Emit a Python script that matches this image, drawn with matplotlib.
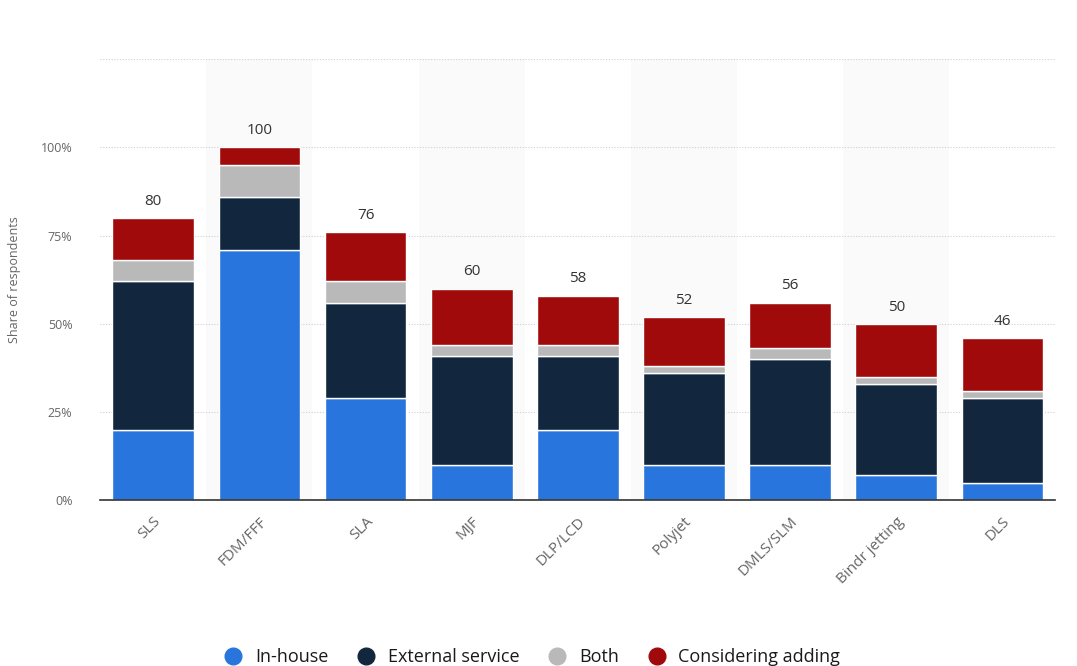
import numpy as np
import matplotlib
matplotlib.use("Agg")
import matplotlib.pyplot as plt
from matplotlib.lines import Line2D

plt.rcParams['font.family'] = ['Open Sans', 'DejaVu Sans']

categories = ['SLS', 'FDM/FFF', 'SLA', 'MJF', 'DLP/LCD', 'Polyjet', 'DMLS/SLM', 'Bindr jetting', 'DLS']
in_house = [20, 71, 29, 10, 20, 10, 10, 7, 5]
external = [42, 15, 27, 31, 21, 26, 30, 26, 24]
both = [6, 9, 6, 3, 3, 2, 3, 2, 2]
considering = [12, 5, 14, 16, 14, 14, 13, 15, 15]
totals = [80, 100, 76, 60, 58, 52, 56, 50, 46]

series = [('In-house', in_house, '#2876dd'),
          ('External service', external, '#12263d'),
          ('Both', both, '#b9b9b9'),
          ('Considering adding', considering, '#a10a0a')]

fig = plt.figure(figsize=(10.77, 6.66), dpi=100)
ax = fig.add_axes([0.093, 0.249, 0.887, 0.662])

x = np.arange(len(categories))

# alternating column shading
for i in x:
    if i % 2 == 1:
        ax.axvspan(i - 0.5, i + 0.5, color='#fafafa', zorder=0, lw=0)

ax.set_ylim(0, 125)
ax.set_xlim(-0.5, len(categories) - 0.5)
ax.set_yticks([0, 25, 50, 75, 100, 125])
ax.set_yticklabels(['0%', '25%', '50%', '75%', '100%', ''])
ax.yaxis.grid(True, linestyle=(0, (1, 1.5)), color='#cfcfcf', lw=0.8)
ax.set_axisbelow(True)

bottom = np.zeros(len(categories))
for name, vals, col in series:
    ax.bar(x, vals, 0.77, bottom=bottom, color=col, edgecolor='white', lw=1.0, zorder=2, label=name)
    bottom += np.array(vals)

for i, t in enumerate(totals):
    ax.text(i, t + 2.6, str(t), ha='center', va='bottom', fontsize=11, color='#333333', zorder=3)

for s in ['top', 'right', 'left']:
    ax.spines[s].set_visible(False)
ax.spines['bottom'].set_color('#333333')
ax.spines['bottom'].set_linewidth(1.2)
ax.tick_params(axis='y', length=0, labelsize=9, labelcolor='#666666', pad=20)
ax.tick_params(axis='x', length=0, labelsize=11, labelcolor='#666666', pad=10)
ax.set_xticks(x)
ax.set_xticklabels(categories, rotation=45, ha='right', rotation_mode='anchor')
ax.set_ylabel('Share of respondents', fontsize=9, color='#666666', labelpad=14)

handles = [Line2D([0], [0], marker='o', ls='', markersize=12, markerfacecolor=c,
                  markeredgecolor=c, label=n) for n, _, c in series]
fig.legend(handles=handles, loc='center', bbox_to_anchor=(0.49, 0.013), ncol=4,
           frameon=False, fontsize=13, handletextpad=0.2, columnspacing=1.1,
           labelcolor='#1a1a1a')

fig.savefig('out.png', dpi=100, facecolor='white')
